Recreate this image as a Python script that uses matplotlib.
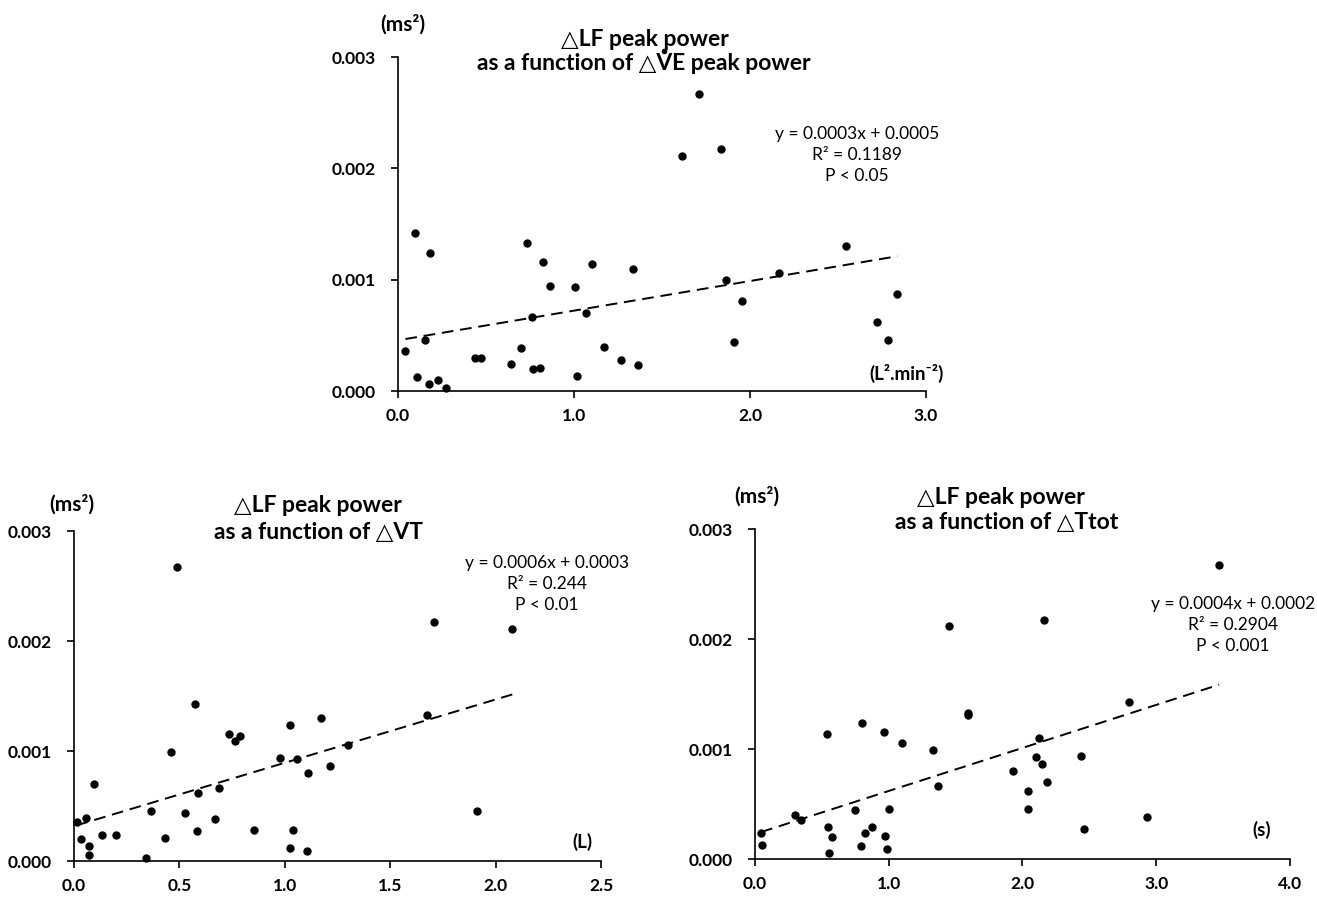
import numpy as np
import matplotlib.pyplot as plt

plt.rcParams['font.family'] = ['Lato', 'DejaVu Sans']

# dLF peak power (ms^2) vs dVE peak power (L^2.min^-2)
ve_x = [0.042, 0.095, 0.109, 0.155, 0.180, 0.176, 0.229, 0.273, 0.440, 0.473,
        0.644, 0.700, 0.732, 0.762, 0.769, 0.808, 0.822, 0.866, 1.005, 1.017,
        1.066, 1.100, 1.172, 1.267, 1.337, 1.364, 1.615, 1.712, 1.837, 1.865,
        1.911, 1.957, 2.166, 2.543, 2.720, 2.784, 2.838]
ve_y = [0.357, 1.420, 0.125, 0.461, 1.241, 0.060, 0.095, 0.030, 0.292, 0.292,
        0.241, 0.384, 1.333, 0.664, 0.199, 0.211, 1.155, 0.943, 0.932, 0.134,
        0.700, 1.137, 0.399, 0.274, 1.095, 0.235, 2.113, 2.670, 2.173, 0.994,
        0.443, 0.804, 1.057, 1.300, 0.622, 0.461, 0.869]

# dLF vs dVT (L)
vt_x = [0.012, 0.031, 0.058, 0.072, 0.072, 0.097, 0.132, 0.197, 0.342, 0.364,
        0.431, 0.462, 0.488, 0.526, 0.575, 0.582, 0.586, 0.668, 0.689, 0.733,
        0.764, 0.789, 0.855, 0.975, 1.024, 1.024, 1.039, 1.057, 1.107, 1.111,
        1.173, 1.215, 1.302, 1.676, 1.706, 1.910, 2.080]
vt_y = [0.353, 0.199, 0.395, 0.133, 0.054, 0.696, 0.238, 0.235, 0.024, 0.455,
        0.208, 0.989, 2.674, 0.440, 1.423, 0.271, 0.618, 0.383, 0.660, 1.152,
        1.091, 1.137, 0.286, 0.938, 1.239, 0.118, 0.286, 0.929, 0.087, 0.802,
        1.299, 0.865, 1.055, 1.330, 2.177, 0.455, 2.113]

# dLF vs dTtot (s)
tt_x = [0.046, 0.049, 0.302, 0.347, 0.542, 0.545, 0.554, 0.579, 0.750, 0.792,
        0.801, 0.823, 0.874, 0.966, 0.969, 0.990, 0.999, 1.100, 1.328, 1.368,
        1.450, 1.590, 1.596, 1.929, 2.038, 2.038, 2.099, 2.127, 2.148, 2.160,
        2.184, 2.434, 2.458, 2.800, 2.928, 3.470]
tt_y = [0.239, 0.130, 0.399, 0.353, 1.139, 0.290, 0.054, 0.202, 0.441, 0.118,
        1.239, 0.233, 0.287, 1.154, 0.211, 0.088, 0.453, 1.054, 0.991, 0.662,
        2.115, 1.305, 1.329, 0.801, 0.619, 0.456, 0.927, 1.097, 0.867, 2.175,
        0.698, 0.940, 0.269, 1.423, 0.381, 2.674]

W, H = 1317, 898


def px(x0, y0, x1, y1):
    # axes rect from pixel corners (left, top, right, bottom)
    return [x0 / W, 1 - y1 / H, (x1 - x0) / W, (y1 - y0) / H]


def ftext(fig, x, y, s, ha='center', va='center', **kw):
    return fig.text(x / W, 1 - y / H, s, ha=ha, va=va, **kw)


def panel(fig, rect, xs, ys, xmax, xticks, xfmt):
    ax = fig.add_axes(rect)
    xs = np.array(xs)
    ys = np.array(ys) / 1000
    ax.scatter(xs, ys, s=25, color='black', zorder=3, clip_on=False)
    k, b = np.polyfit(xs, ys, 1)
    xl = np.array([xs.min(), xs.max()])
    ax.plot(xl, k * xl + b, color='black', lw=1.4, ls=(0, (6, 3.5)))
    ax.set_xlim(0, xmax)
    ax.set_ylim(0, 0.003)
    ax.set_xticks(xticks)
    ax.set_xticklabels([xfmt.format(t) for t in xticks])
    ax.set_yticks([0, 0.001, 0.002, 0.003])
    ax.set_yticklabels(['0.000', '0.001', '0.002', '0.003'])
    for s in ['top', 'right']:
        ax.spines[s].set_visible(False)
    for s in ['left', 'bottom']:
        ax.spines[s].set_linewidth(1.2)
    ax.tick_params(direction='out', length=5, width=1.2, labelsize=12.5)
    ax.tick_params(axis='y', pad=11)
    ax.tick_params(axis='x', pad=7)
    for lab in ax.get_xticklabels() + ax.get_yticklabels():
        lab.set_fontweight('bold')
    return ax


fig = plt.figure(figsize=(W / 100, H / 100), dpi=100)

panel(fig, px(398, 57, 926, 391), ve_x, ve_y, 3.0, [0, 1, 2, 3], '{:.1f}')
panel(fig, px(74, 531, 601, 861), vt_x, vt_y, 2.5,
      [0, 0.5, 1.0, 1.5, 2.0, 2.5], '{:.1f}')
panel(fig, px(755, 529, 1290, 859), tt_x, tt_y, 4.0, [0, 1, 2, 3, 4], '{:.1f}')

bold = dict(fontweight='bold', fontsize=16.5)
ftext(fig, 645, 40, '\u25b3LF peak power', **bold)
ftext(fig, 318, 505, '\u25b3LF peak power', **bold)
ftext(fig, 318, 533, 'as a function of \u25b3VT', **bold)
ftext(fig, 1001, 498, '\u25b3LF peak power', **bold)
ftext(fig, 1007, 523, 'as a function of \u25b3Ttot', **bold)

# second title line of the top panel is split after the V so a dot
# can sit above it (V-dot = minute ventilation)
r = fig.canvas.get_renderer()


def text_w(s):
    t = fig.text(0, 0, s, **bold)
    w = t.get_window_extent(r).width
    t.remove()
    return w


left_part = 'as a function of \u25b3V'
right_part = 'E peak power'
wl, wr, wv = text_w(left_part), text_w(right_part), text_w('V')
split = 644 - (wl + wr) / 2 + wl
ftext(fig, split, 70, left_part, ha='right', va='baseline', **bold)
ftext(fig, split, 70, right_part, ha='left', va='baseline', **bold)
fig.add_artist(plt.Line2D([(split - wv / 2) / W], [1 - (70 - 16.5 - 3) / H],
                          marker='o', ms=3, color='black',
                          transform=fig.transFigure))

unit = dict(fontweight='bold', fontsize=15)
ftext(fig, 403, 24, '(ms\u00b2)', **unit)
ftext(fig, 72, 504, '(ms\u00b2)', **unit)
ftext(fig, 757, 496, '(ms\u00b2)', **unit)

xunit = dict(fontweight='bold', fontsize=13.5)
ftext(fig, 907, 373, '(L\u00b2.min\u207b\u00b2)', **xunit)
ftext(fig, 582, 842, '(L)', **xunit)
ftext(fig, 1262, 830, '(s)', **xunit)

reg = dict(fontsize=12.5, linespacing=1.42)
ftext(fig, 857, 155, 'y = 0.0003x + 0.0005\nR\u00b2 = 0.1189\nP < 0.05', **reg)
ftext(fig, 547, 584, 'y = 0.0006x + 0.0003\nR\u00b2 = 0.244\nP < 0.01', **reg)
ftext(fig, 1233, 625, 'y = 0.0004x + 0.0002\nR\u00b2 = 0.2904\nP < 0.001', **reg)

fig.savefig('out.png', dpi=100)
